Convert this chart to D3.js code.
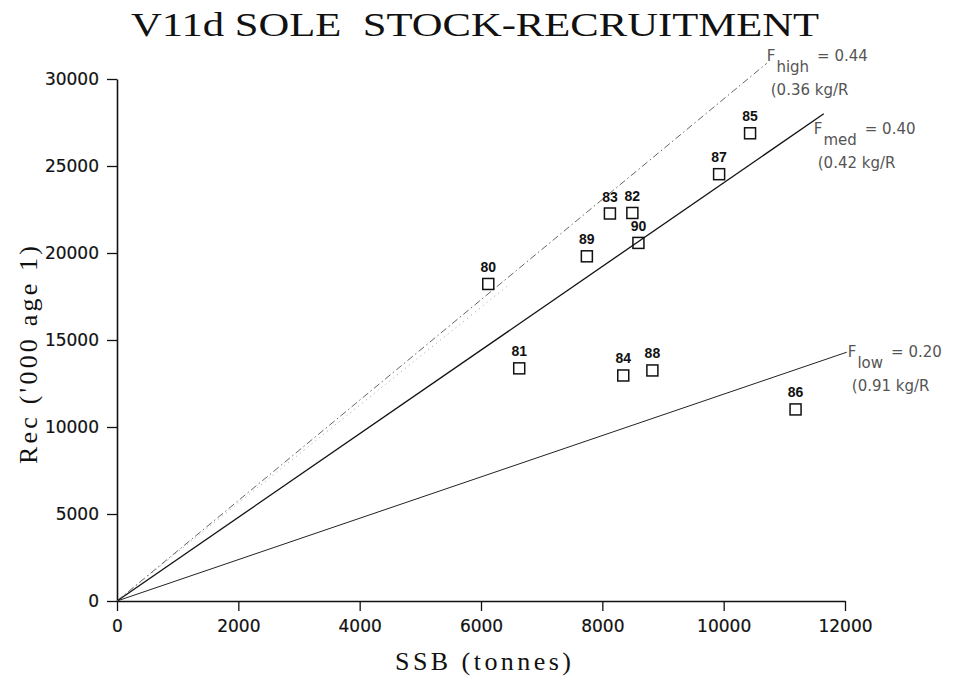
<!DOCTYPE html>
<html><head><meta charset="utf-8">
<script src="https://cdn.jsdelivr.net/npm/d3@7"></script>
<style>body{margin:0;background:#fff}svg{display:block}</style>
</head><body>
<script>
// Data
const years = ["80","81","82","83","84","85","86","87","88","89","90"];
const ssb   = [6120, 6630, 8495, 8125, 8345, 10435, 11185, 9925, 8825, 7745, 8595];
const rec   = [18220, 13370, 22300, 22270, 12960, 26880, 11010, 24530, 13250, 19810, 20580];
const xTicks = [0,2000,4000,6000,8000,10000,12000];
const yTicks = [0,5000,10000,15000,20000,25000,30000];
// Reference lines (through origin): name, F value, yield text, end SSB, end Rec
const lineNames = ["high","med","low"];
const lineF     = ["0.44","0.40","0.20"];
const lineKgR   = ["(0.36 kg/R","(0.42 kg/R","(0.91 kg/R"];
const lineEndX  = [10710, 11650, 12030];
const lineEndY  = [30900, 28000, 14300];

const W=955,H=679;
const svg=d3.select("body").append("svg").attr("width",W).attr("height",H);
const x=d3.scaleLinear().domain([0,12000]).range([117,845]);
const y=d3.scaleLinear().domain([0,30000]).range([601,79]);

const serif="'Liberation Serif','DejaVu Serif',serif";
// Title
svg.append("text").attr("x",131).attr("y",36)
  .attr("textLength",688).attr("lengthAdjust","spacingAndGlyphs")
  .style("white-space","pre")
  .style("font-family",serif)
  .style("font-size","34px").attr("fill","#111")
  .text("V11d SOLE  STOCK-RECRUITMENT");

// Axes
const tickFont="'DejaVu Sans','Liberation Sans',sans-serif";
const gx=svg.append("g").attr("transform",`translate(0,${y(0)})`)
  .call(d3.axisBottom(x).tickValues(xTicks).tickFormat(d3.format("d")).tickSize(10).tickSizeOuter(0).tickPadding(4));
const gy=svg.append("g").attr("transform",`translate(${x(0)},0)`)
  .call(d3.axisLeft(y).tickValues(yTicks).tickFormat(d3.format("d")).tickSize(10).tickSizeOuter(0).tickPadding(8));
[gx,gy].forEach(g=>{
  g.select(".domain").attr("stroke","#111").attr("stroke-width",1.6);
  g.selectAll(".tick line").attr("stroke","#111").attr("stroke-width",1.3);
  g.selectAll(".tick text").attr("fill","#111").style("font-family",tickFont)
   .style("font-size","17px").attr("stroke","#111").attr("stroke-width",0.2);
});
gx.selectAll(".tick text").attr("dy","1em");
gy.selectAll(".tick text").attr("dy","0.35em");

// Axis titles
svg.append("text").attr("x",483).attr("y",670).attr("text-anchor","middle")
  .attr("textLength",176).attr("lengthAdjust","spacing")
  .style("font-family",serif).style("font-size","26px")
  .attr("fill","#111").text("SSB (tonnes)");
svg.append("text").attr("transform","translate(37,355) rotate(-90)").attr("text-anchor","middle")
  .attr("textLength",218).attr("lengthAdjust","spacing")
  .style("font-family",serif).style("font-size","26px")
  .attr("fill","#111").text("Rec ('000 age 1)");

// Reference lines
const lineStyle=[
  {stroke:"#666",w:1,dash:"7,3,1.5,3"},
  {stroke:"#111",w:1.3,dash:null},
  {stroke:"#222",w:1,dash:null}
];
lineNames.forEach((n,i)=>{
  svg.append("line").attr("x1",x(0)).attr("y1",y(0))
    .attr("x2",x(lineEndX[i])).attr("y2",y(lineEndY[i]))
    .attr("stroke",lineStyle[i].stroke).attr("stroke-width",lineStyle[i].w)
    .attr("stroke-dasharray",lineStyle[i].dash);
});
// faint dotted companion near F_high
svg.append("line").attr("x1",x(0)).attr("y1",y(0))
  .attr("x2",x(lineEndX[0]*0.6)).attr("y2",y(lineEndY[0]*0.6*0.975))
  .attr("stroke","#888").attr("stroke-width",0.8).attr("stroke-dasharray","1,4");

// Line labels
const lblFont="'DejaVu Sans','Liberation Sans',sans-serif";
const lblOff=[{dx:0,dy:-2},{dx:-10,dy:20},{dx:1,dy:5}];
lineNames.forEach((n,i)=>{
  const lx=x(lineEndX[i])+lblOff[i].dx, ly=y(lineEndY[i])+lblOff[i].dy;
  const t=svg.append("text").attr("x",lx).attr("y",ly)
    .style("font-family",lblFont).style("font-size","15px").attr("fill","#555");
  t.append("tspan").text("F");
  t.append("tspan").attr("dy",11).attr("dx",1).text(n);
  t.append("tspan").attr("dy",-11).attr("dx",8).text("= "+lineF[i]);
  svg.append("text").attr("x",lx+4).attr("y",ly+34)
    .style("font-family",lblFont).style("font-size","15px").attr("fill","#555")
    .text(lineKgR[i]);
});

// Points
const pts=years.map((yr,i)=>({yr,s:ssb[i],r:rec[i]}));
svg.selectAll("rect.pt").data(pts).enter().append("rect").attr("class","pt")
  .attr("x",d=>x(d.s)-5.5).attr("y",d=>y(d.r)-5.5).attr("width",11).attr("height",11)
  .attr("fill","none").attr("stroke","#111").attr("stroke-width",1.5);
svg.selectAll("text.pl").data(pts).enter().append("text").attr("class","pl")
  .attr("x",d=>x(d.s)).attr("y",d=>y(d.r)-12).attr("text-anchor","middle")
  .style("font-family","'Liberation Sans',sans-serif").style("font-size","14px").style("font-weight","bold")
  .attr("fill","#111").text(d=>d.yr);
</script>
</body></html>
